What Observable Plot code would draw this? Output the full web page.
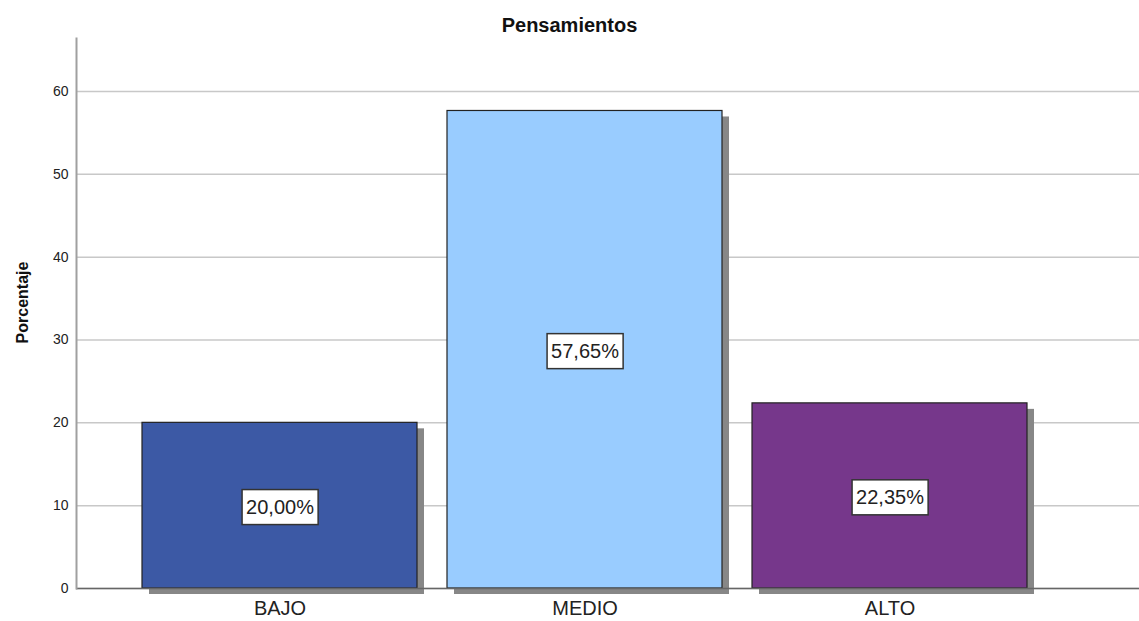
<!DOCTYPE html>
<html>
<head>
<meta charset="utf-8">
<script src="https://cdn.jsdelivr.net/npm/d3@7"></script>
<script src="https://cdn.jsdelivr.net/npm/@observablehq/plot@0.6"></script>
<style>
  body { margin: 0; background: #fff; font-family: "Liberation Sans", Arial, sans-serif; }
  #title { height: 38px; width: 1139px; text-align: center; font-weight: bold; font-size: 20px; line-height: 20px; padding-top: 15px; box-sizing: border-box; color: #111; overflow: hidden; }
</style>
</head>
<body>
<div id="title">Pensamientos</div>
<div id="chart"></div>
<script>
const categories = ["BAJO", "MEDIO", "ALTO"];
const percentages = [20.00, 57.65, 22.35];
const labels = ["20,00%", "57,65%", "22,35%"];
const colors = ["#3c59a5", "#99ccff", "#76378b"];
const yTicks = [0, 10, 20, 30, 40, 50, 60];
const yLabel = "Porcentaje";

const data = categories.map((c, i) => ({cat: c, value: percentages[i], label: labels[i], color: colors[i]}));

const plot = Plot.plot({
  width: 1139,
  height: 583,
  marginTop: 0,
  marginBottom: 33,
  marginLeft: 76,
  marginRight: 0,
  style: {fontFamily: "'Liberation Sans', Arial, sans-serif", background: "#fff", overflow: "visible"},
  x: {domain: categories, range: [126.5, 1041.5], paddingInner: 0.1, paddingOuter: 0.05, label: null},
  y: {domain: [0, 66.4], label: null},
  marks: [
    Plot.gridY(yTicks, {stroke: "#c8c8c8", strokeOpacity: 1, strokeWidth: 1.5}),
    Plot.barY(data, {x: "cat", y: "value", fill: "#878787", dx: 7, dy: 6}),
    Plot.barY(data, {x: "cat", y: "value", fill: "color", stroke: "#222", strokeWidth: 1.2}),
    Plot.ruleY([0], {stroke: "#666", strokeWidth: 1.5}),
    Plot.frame({anchor: "left", stroke: "#a0a0a0", strokeWidth: 2}),
    Plot.axisY(yTicks, {tickSize: 0, tickPadding: 8, fontSize: 14, fill: "#222", label: null}),
    Plot.axisX({tickSize: 0, tickPadding: 12, fontSize: 20, fill: "#222", label: null}),
    Plot.text([yLabel], {frameAnchor: "left", textAnchor: "middle", rotate: -90, dx: -54, dy: -11, fontSize: 16, fontWeight: "bold", fill: "#111"}),
    Plot.text(data, {x: "cat", y: d => d.value / 2, text: "label", fontSize: 20, fill: "#222", dy: 2, className: "vlabel"})
  ]
});
document.getElementById("chart").appendChild(plot);

// white boxes behind value labels
d3.select(plot).selectAll("g.vlabel text").each(function() {
  const b = this.getBBox();
  const w = b.width + 8, h = 35;
  const cx = b.x + b.width / 2, cy = b.y + b.height / 2;
  d3.select(this.parentNode).insert("rect", () => this)
    .attr("x", cx - w / 2).attr("y", cy - h / 2)
    .attr("width", w).attr("height", h)
    .attr("transform", this.getAttribute("transform"))
    .attr("fill", "#fff").attr("stroke", "#333").attr("stroke-width", 1.5);
});
</script>
</body>
</html>
